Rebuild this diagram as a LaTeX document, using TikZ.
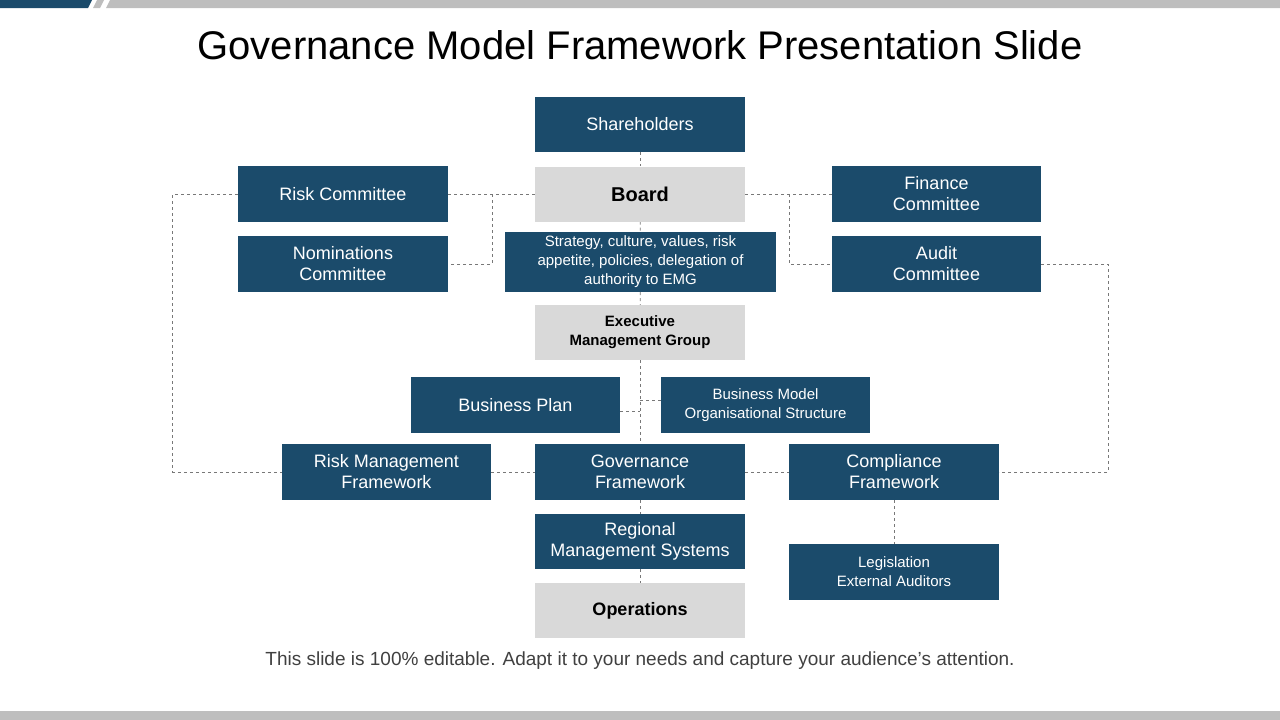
\documentclass[tikz,border=0pt]{standalone}
\usepackage{fontspec}
\setmainfont{Liberation Sans}
\definecolor{boxblue}{RGB}{27,75,107}
\definecolor{boxgray}{RGB}{217,217,217}
\definecolor{linegray}{RGB}{120,120,120}
\definecolor{bargray}{RGB}{190,190,190}
\tikzset{
  blue box/.style={rectangle, fill=boxblue, text=white, align=center, inner sep=0pt, font=\fontsize{18}{21}\selectfont},
  gray box/.style={rectangle, fill=boxgray, text=black, align=center, inner sep=0pt, font=\fontsize{20}{22}\selectfont\bfseries},
  link/.style={draw=linegray, dashed, line width=0.8pt}
}
\begin{document}
\begin{tikzpicture}[x=1pt, y=-1pt]
\useasboundingbox (0,0) rectangle (1280,720);
\fill[boxblue] (0,0) -- (92,0) -- (88,8) -- (0,8) -- cycle;
\fill[bargray] (97,0) -- (104,0) -- (100,8) -- (93,8) -- cycle;
\fill[bargray] (110,0) -- (1280,0) -- (1280,8) -- (106,8) -- cycle;
\fill[bargray] (0,711) rectangle (1280,720);
\node (title) at (640,45) {\fontsize{40}{44}\selectfont Governance Model Framework Presentation Slide};
\node[text=black!75] (foot) at (640,661) {\fontsize{19}{22}\selectfont This slide is 100\% editable. Adapt it to your needs and capture your audience’s attention.};
% top of the chart
\node[blue box, minimum width=210, minimum height=55] (share) at (640,124.5) {Shareholders};
\node[gray box, minimum width=210, minimum height=55] (board) at (640,194) {Board};
\node[blue box, minimum width=210, minimum height=56] (risk) at (343,194) {Risk Committee};
\node[blue box, minimum width=210, minimum height=56] (nom) at (343,264) {Nominations\\Committee};
\node[blue box, minimum width=271, minimum height=60, font=\fontsize{15}{19}\selectfont] (strat) at (640.5,262) {Strategy, culture, values, risk\\appetite, policies, delegation of\\authority to EMG};
\node[blue box, minimum width=209, minimum height=56] (fin) at (936.5,194) {Finance\\Committee};
\node[blue box, minimum width=209, minimum height=56] (audit) at (936.5,264) {Audit\\Committee};
\node[gray box, minimum width=210, minimum height=55, font=\fontsize{15}{19}\selectfont\bfseries] (emg) at (640,332.5) {Executive\\Management Group};
% lower part
\node[blue box, minimum width=209, minimum height=56] (plan) at (515.5,405) {Business Plan};
\node[blue box, minimum width=209, minimum height=56, font=\fontsize{15}{19}\selectfont] (model) at (765.5,405) {Business Model\\Organisational Structure};
\node[blue box, minimum width=209, minimum height=56] (riskfw) at (386.5,472) {Risk Management\\Framework};
\node[blue box, minimum width=210, minimum height=56] (gov) at (640,472) {Governance\\Framework};
\node[blue box, minimum width=210, minimum height=56] (comp) at (894,472) {Compliance\\Framework};
\node[blue box, minimum width=210, minimum height=55] (reg) at (640,541.5) {Regional\\Management Systems};
\node[blue box, minimum width=210, minimum height=56, font=\fontsize{15}{19}\selectfont] (legis) at (894,572) {Legislation\\External Auditors};
\node[gray box, minimum width=210, minimum height=55, font=\fontsize{18}{21}\selectfont\bfseries] (ops) at (640,610.5) {Operations};
% connectors
\coordinate (lc) at (492,194);
\coordinate (rc) at (789,194);
\coordinate (jp) at (640,411);
\coordinate (jm) at (640,400);
\foreach \from/\to in {share/board, board/strat, strat/emg, emg/gov, gov/reg, reg/ops, board/risk, board/fin, riskfw/gov, gov/comp, comp/legis}
    \draw[link] (\from) -- (\to);
\draw[link] (lc) |- (nom);
\draw[link] (rc) |- (audit);
\draw[link] (plan.east |- jp) -- (jp);
\draw[link] (model.west |- jm) -- (jm);
\draw[link] (risk.west) -- ++(-65,0) |- (riskfw.west);
\draw[link] (audit.east) -- ++(67,0) |- (comp.east);
\foreach \n in {share, board, strat, emg, gov, reg, ops}
    \node[blue box, fill=none, minimum width=0, minimum height=0] at (\n) {};
\node[blue box, minimum width=210, minimum height=55] at (share) {Shareholders};
\node[gray box, minimum width=210, minimum height=55] at (board) {Board};
\node[blue box, minimum width=271, minimum height=60, font=\fontsize{15}{19}\selectfont] at (strat) {Strategy, culture, values, risk\\appetite, policies, delegation of\\authority to EMG};
\node[gray box, minimum width=210, minimum height=55, font=\fontsize{15}{19}\selectfont\bfseries] at (emg) {Executive\\Management Group};
\node[blue box, minimum width=210, minimum height=56] at (gov) {Governance\\Framework};
\node[blue box, minimum width=210, minimum height=55] at (reg) {Regional\\Management Systems};
\node[gray box, minimum width=210, minimum height=55, font=\fontsize{18}{21}\selectfont\bfseries] at (ops) {Operations};
\end{tikzpicture}
\end{document}
